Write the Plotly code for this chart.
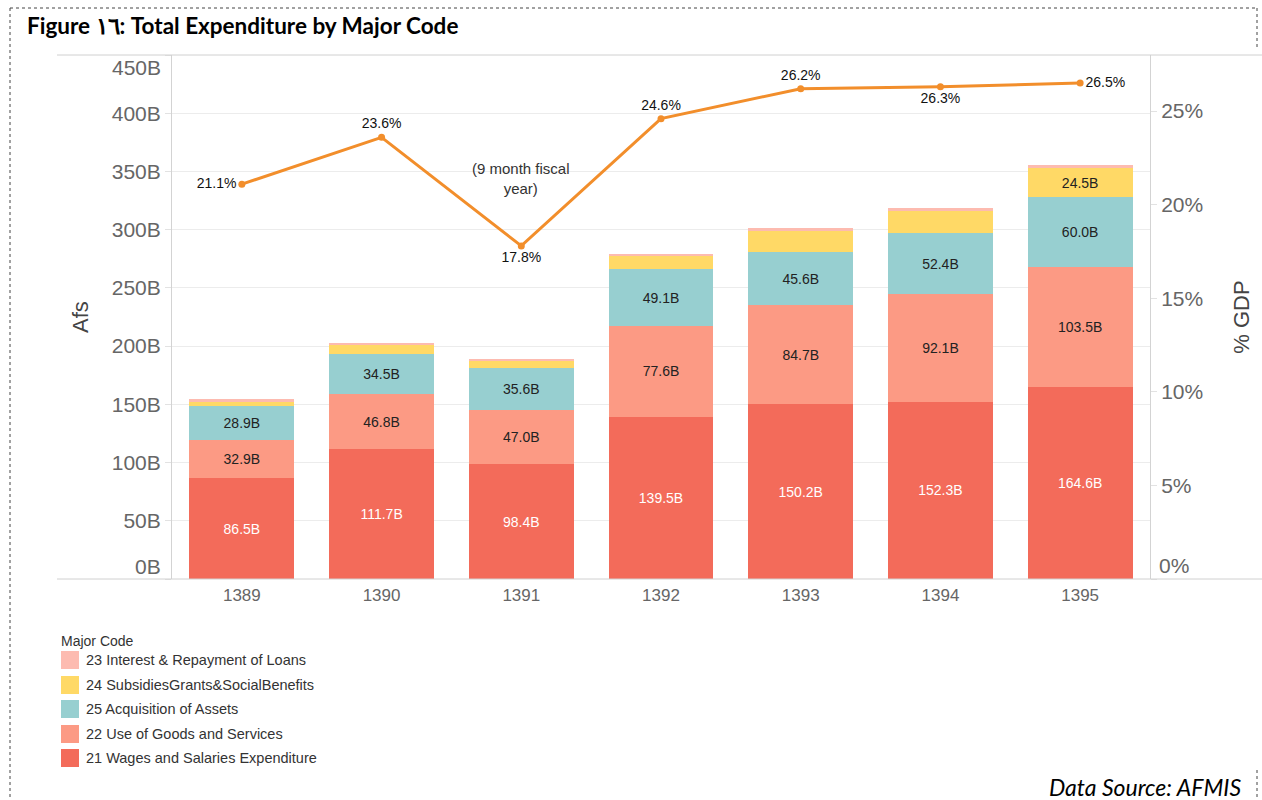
import plotly.graph_objects as go

# Fiscal years (Solar Hijri)
years = ["1389", "1390", "1391", "1392", "1393", "1394", "1395"]

# Expenditure by major code, billions of Afs
wages = [86.5, 111.7, 98.4, 139.5, 150.2, 152.3, 164.6]          # 21
goods = [32.9, 46.8, 47.0, 77.6, 84.7, 92.1, 103.5]              # 22
assets = [28.9, 34.5, 35.6, 49.1, 45.6, 52.4, 60.0]              # 25
subsidies = [4.3, 8.4, 6.9, 11.4, 18.9, 19.6, 24.5]              # 24
interest = [1.7, 1.7, 1.4, 1.4, 1.7, 2.5, 2.8]                   # 23

# Total expenditure as share of GDP (%)
gdp_share = [21.1, 23.6, 17.8, 24.6, 26.2, 26.3, 26.5]

# left and right axis ticks
afs_ticks = list(range(0, 451, 50))
gdp_ticks = [0, 5, 10, 15, 20, 25]

series_names = [
    "21 Wages and Salaries Expenditure",
    "22 Use of Goods and Services",
    "25 Acquisition of Assets",
    "24 SubsidiesGrants&SocialBenefits",
    "23 Interest & Repayment of Loans",
]
series_values = [wages, goods, assets, subsidies, interest]
series_colors = ["#F36B5A", "#FC9A84", "#97CFD0", "#FFD966", "#FDBBB0"]
# which segments carry a value label
label_min = [0, 0, 0, 20, 1e9]
label_colors = ["white", "#222222", "#222222", "#222222", "#222222"]

W, H = 1262, 800
L, R, T, B = 172, 1150, 55, 579
FONT = "Liberation Sans, Arial, sans-serif"


def fx(px):
    return (px - L) / (R - L)


def fy(py):
    return (B - py) / (B - T)


fig = go.Figure()

for name, vals, col, lmin, tcol in zip(series_names, series_values,
                                       series_colors, label_min, label_colors):
    fig.add_trace(go.Bar(
        x=years, y=vals, name=name, marker=dict(color=col, line=dict(width=0)),
        text=[f"{v:.1f}B" if v >= lmin else "" for v in vals],
        textposition="inside", insidetextanchor="middle",
        textangle=0, constraintext="none",
        textfont=dict(family=FONT, size=14, color=tcol),
        showlegend=False,
    ))

fig.add_trace(go.Scatter(
    x=years, y=gdp_share, yaxis="y2", mode="lines+markers+text",
    line=dict(color="#F28E2B", width=3),
    marker=dict(color="#F28E2B", size=7),
    text=[f"{v:.1f}%" for v in gdp_share],
    textposition=["middle left", "top center", "bottom center", "top center",
                  "top center", "bottom center", "middle right"],
    textfont=dict(family=FONT, size=14, color="#111111"),
    showlegend=False, cliponaxis=False,
))

axis_font = dict(family=FONT, size=21, color="#666666")

# end labels of both value axes sit inside the pane, drawn separately below
afs_text = [f"{v}B" for v in afs_ticks]
afs_text[0] = afs_text[-1] = ""
gdp_text = [f"{v}%" for v in gdp_ticks]
gdp_text[0] = ""

fig.update_layout(
    width=W, height=H,
    margin=dict(l=L, r=W - R, t=T, b=H - B, pad=0),
    paper_bgcolor="white", plot_bgcolor="white",
    barmode="stack", bargap=0.25,
    xaxis=dict(type="category", categoryorder="array", categoryarray=years,
               range=[-0.5, len(years) - 0.5],
               showgrid=False, zeroline=False, showline=False,
               ticks="", ticklabelstandoff=4,
               tickfont=dict(family=FONT, size=17, color="#666666")),
    yaxis=dict(range=[0, 450], tickvals=afs_ticks, ticktext=afs_text,
               showgrid=True, gridcolor="#ececec", gridwidth=1, zeroline=False,
               showline=True, linecolor="#d3d3d3", linewidth=1,
               ticks="outside", ticklen=6, tickcolor="#e2e2e2",
               tickfont=axis_font,
               title=dict(text="Afs", standoff=17,
                          font=dict(family=FONT, size=22, color="#444444"))),
    yaxis2=dict(overlaying="y", side="right", range=[0, 28],
                tickvals=gdp_ticks, ticktext=gdp_text,
                showgrid=False, zeroline=False,
                showline=True, linecolor="#d3d3d3", linewidth=1,
                ticks="outside", ticklen=6, tickcolor="#e2e2e2",
                tickfont=axis_font,
                title=dict(text="% GDP", standoff=31,
                           font=dict(family=FONT, size=22, color="#444444"))),
)

shapes = []
# frame lines along top and bottom of the pane
for py in (T, B):
    shapes.append(dict(type="line", xref="paper", yref="paper",
                       x0=fx(57), x1=fx(1262), y0=fy(py), y1=fy(py),
                       line=dict(color="#d0d0d0", width=1)))
# dotted page border
dot = dict(color="#444444", width=1, dash="dot")
shapes.append(dict(type="line", xref="paper", yref="paper",
                   x0=fx(10), x1=fx(1257), y0=fy(8), y1=fy(8), line=dot))
shapes.append(dict(type="line", xref="paper", yref="paper",
                   x0=fx(10), x1=fx(10), y0=fy(8), y1=fy(800), line=dot))
shapes.append(dict(type="line", xref="paper", yref="paper",
                   x0=fx(1257), x1=fx(1257), y0=fy(8), y1=fy(50), line=dot))
shapes.append(dict(type="line", xref="paper", yref="paper",
                   x0=fx(1257), x1=fx(1257), y0=fy(770), y1=fy(800), line=dot))

annotations = [
    dict(text="<b>Figure ١٦: Total Expenditure by Major Code</b>",
         xref="paper", yref="paper", x=fx(25), y=fy(25),
         xanchor="left", yanchor="middle", showarrow=False,
         font=dict(family="Lato, Noto Sans, sans-serif", size=22.5, color="black")),
    dict(text="<i>Data Source: AFMIS</i>",
         xref="paper", yref="paper", x=fx(1243), y=fy(787),
         xanchor="right", yanchor="middle", showarrow=False,
         font=dict(family="Lato, Noto Sans, sans-serif", size=23, color="black")),
    dict(text="(9 month fiscal<br>year)", xref="x", yref="paper",
         x=2, y=fy(179), xanchor="center", yanchor="middle",
         showarrow=False, align="center",
         font=dict(family=FONT, size=15, color="#333333")),
    dict(text="Major Code", xref="paper", yref="paper", x=fx(59), y=fy(641),
         xanchor="left", yanchor="middle", showarrow=False,
         font=dict(family=FONT, size=14, color="#333333")),
    # axis end labels, nudged inside the pane
    dict(text=f"{afs_ticks[0]}B", xref="paper", yref="paper", x=fx(163), y=fy(566),
         xanchor="right", yanchor="middle", showarrow=False, font=axis_font),
    dict(text=f"{afs_ticks[-1]}B", xref="paper", yref="paper", x=fx(163), y=fy(67),
         xanchor="right", yanchor="middle", showarrow=False, font=axis_font),
    dict(text=f"{gdp_ticks[0]}%", xref="paper", yref="paper", x=fx(1157), y=fy(565),
         xanchor="left", yanchor="middle", showarrow=False, font=axis_font),
]

# legend, top to bottom: 23, 24, 25, 22, 21
legend_rows = [660, 685, 709, 734, 758]
for row_y, name, col in zip(legend_rows, series_names[::-1], series_colors[::-1]):
    shapes.append(dict(type="rect", xref="paper", yref="paper",
                       x0=fx(61), x1=fx(79), y0=fy(row_y - 9), y1=fy(row_y + 9),
                       fillcolor=col, line=dict(width=0)))
    annotations.append(dict(text=name, xref="paper", yref="paper",
                            x=fx(84), y=fy(row_y), xanchor="left", yanchor="middle",
                            showarrow=False,
                            font=dict(family=FONT, size=14.5, color="#333333")))

fig.update_layout(shapes=shapes, annotations=annotations)

fig.write_html("out.html")
